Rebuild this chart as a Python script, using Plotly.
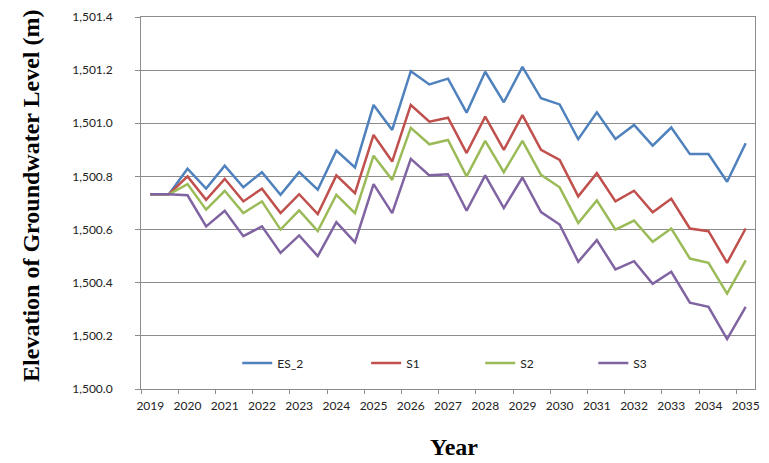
import plotly.graph_objects as go

# Half-yearly simulation steps, 2019 .. 2035
periods = [2019 + 0.5 * i for i in range(33)]
year_labels = [str(y) for y in range(2019, 2036)]

es_2 = [1500.733, 1500.733, 1500.829, 1500.754, 1500.840, 1500.759, 1500.816, 1500.731,
        1500.816, 1500.750, 1500.897, 1500.834, 1501.069, 1500.975, 1501.196, 1501.146,
        1501.168, 1501.040, 1501.194, 1501.079, 1501.212, 1501.094, 1501.071, 1500.940,
        1501.041, 1500.941, 1500.994, 1500.916, 1500.984, 1500.884, 1500.884, 1500.780,
        1500.925]
s1 = [1500.733, 1500.733, 1500.800, 1500.712, 1500.791, 1500.706, 1500.754, 1500.662,
      1500.733, 1500.658, 1500.804, 1500.737, 1500.956, 1500.856, 1501.069, 1501.006,
      1501.021, 1500.888, 1501.025, 1500.900, 1501.031, 1500.900, 1500.862, 1500.725,
      1500.812, 1500.706, 1500.746, 1500.665, 1500.716, 1500.604, 1500.594, 1500.475,
      1500.604]
s2 = [1500.733, 1500.733, 1500.771, 1500.675, 1500.746, 1500.662, 1500.706, 1500.600,
      1500.672, 1500.594, 1500.731, 1500.662, 1500.878, 1500.787, 1500.983, 1500.921,
      1500.937, 1500.800, 1500.934, 1500.816, 1500.934, 1500.806, 1500.759, 1500.625,
      1500.710, 1500.600, 1500.634, 1500.554, 1500.604, 1500.491, 1500.475, 1500.359,
      1500.484]
s3 = [1500.733, 1500.733, 1500.729, 1500.612, 1500.671, 1500.575, 1500.612, 1500.512,
      1500.578, 1500.500, 1500.628, 1500.552, 1500.771, 1500.662, 1500.866, 1500.804,
      1500.808, 1500.671, 1500.804, 1500.681, 1500.796, 1500.666, 1500.619, 1500.479,
      1500.560, 1500.450, 1500.481, 1500.396, 1500.441, 1500.325, 1500.309, 1500.188,
      1500.309]

series = [("ES_2", es_2, "#4F81BD"),
          ("S1", s1, "#C0504D"),
          ("S2", s2, "#9BBB59"),
          ("S3", s3, "#8064A2")]

# left pixel edge of each legend entry (plot area spans x = 141 .. 760)
legend_left_px = [238, 368, 483, 597]

grid = "#8C8C8C"
tick_font = dict(family="Lato, Open Sans, sans-serif", size=12, color="#222222")
title_font = dict(family="Liberation Serif, Times New Roman, serif", size=24, color="#000000")

fig = go.Figure()
legend_layout = {}
for k, (name, vals, color) in enumerate(series):
    key = "legend" if k == 0 else f"legend{k + 1}"
    fig.add_trace(go.Scatter(x=periods, y=vals, name=name, mode="lines",
                             line=dict(color=color, width=2.5), legend=key))
    legend_layout[key] = dict(x=(legend_left_px[k] - 141) / 619, xanchor="left",
                              y=0.07, yanchor="middle", bgcolor="rgba(0,0,0,0)",
                              orientation="h",
                              font=dict(family="Lato, Open Sans, sans-serif", size=12,
                                        color="#222222"))

fig.update_layout(
    width=769, height=463,
    margin=dict(l=141, r=9, t=15, b=74),
    paper_bgcolor="white", plot_bgcolor="white",
    showlegend=True,
    xaxis=dict(range=[2018.75, 2035.25], tickmode="array",
               tickvals=list(range(2019, 2036)), ticktext=year_labels,
               ticks="", showgrid=False, zeroline=False,
               showline=True, linecolor=grid, linewidth=1, mirror=True,
               tickfont=tick_font, ticklabelstandoff=6,
               minor=dict(ticks="outside", tick0=2018.75, dtick=1, ticklen=4,
                          tickcolor=grid, showgrid=False)),
    yaxis=dict(range=[1500.0, 1501.4], tick0=1500.0, dtick=0.2, tickformat=",.1f",
               ticks="outside", ticklen=5, tickcolor=grid,
               showgrid=True, gridcolor=grid, gridwidth=1, zeroline=False,
               showline=True, linecolor=grid, linewidth=1, mirror=True,
               tickfont=tick_font, ticklabelstandoff=20),
    annotations=[
        dict(text="<b>Elevation of Groundwater Level (m)</b>", textangle=-90,
             xref="paper", yref="paper", x=(30 - 141) / 619, y=(389 - 195) / 374,
             xanchor="center", yanchor="middle", showarrow=False, font=title_font),
        dict(text="<b>Year</b>", xref="paper", yref="paper",
             x=(457 - 141) / 619, y=(389 - 447) / 374,
             xanchor="center", yanchor="middle", showarrow=False, font=title_font),
    ],
    **legend_layout,
)

fig.write_html("out.html")
